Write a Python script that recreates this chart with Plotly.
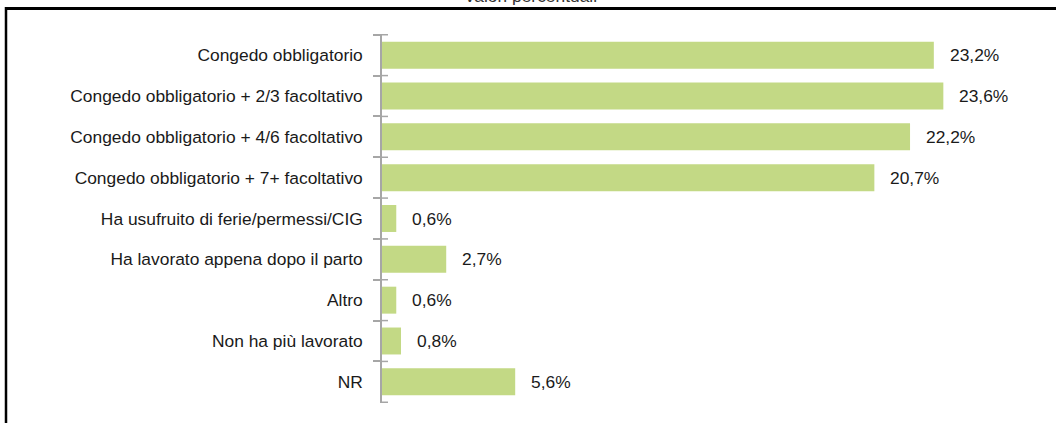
import plotly.graph_objects as go

# Survey answers and their shares (%)
categories = [
    "Congedo obbligatorio",
    "Congedo obbligatorio + 2/3 facoltativo",
    "Congedo obbligatorio + 4/6 facoltativo",
    "Congedo obbligatorio + 7+ facoltativo",
    "Ha usufruito di ferie/permessi/CIG",
    "Ha lavorato appena dopo il parto",
    "Altro",
    "Non ha più lavorato",
    "NR",
]
values = [23.2, 23.6, 22.2, 20.7, 0.6, 2.7, 0.6, 0.8, 5.6]
value_labels = [f"{v:.1f}%".replace(".", ",") for v in values]
subtitle = "Valori percentuali"

FONT = "Liberation Sans, Arial, sans-serif"
FS = 17.4
BAR_COLOR = "#c3d985"
AXIS_COLOR = "#a6a6a6"
TEXT_COLOR = "#1a1a1a"

W, H = 1056, 423
ML, MR, MT, MB = 382, 8, 34, 20
PW, PH = W - ML - MR, H - MT - MB


def px_x(px):
    return (px - ML) / PW


def px_y(py):
    return 1 - (py - MT) / PH


fig = go.Figure(
    go.Bar(
        x=values,
        y=categories,
        orientation="h",
        marker=dict(color=BAR_COLOR, line=dict(width=0)),
        hoverinfo="skip",
    )
)

# value labels to the right of each bar
for cat, v, lab in zip(categories, values, value_labels):
    fig.add_annotation(
        x=v, y=cat, text=lab, showarrow=False,
        xanchor="left", yanchor="middle", xshift=14,
        font=dict(family=FONT, size=FS, color=TEXT_COLOR),
    )

# inner half of the crossing tick marks at category boundaries
for i in range(len(categories) + 1):
    fig.add_shape(
        type="line", xref="x", yref="y",
        xsizemode="pixel", xanchor=0, x0=0, x1=6,
        y0=i - 0.5, y1=i - 0.5,
        line=dict(color=AXIS_COLOR, width=1.5),
    )

# frame edges
fig.add_shape(type="line", xref="paper", yref="paper",
              x0=px_x(5), x1=px_x(W + 2), y0=px_y(8.5), y1=px_y(8.5),
              line=dict(color="black", width=3))
fig.add_shape(type="line", xref="paper", yref="paper",
              x0=px_x(6), x1=px_x(6), y0=px_y(7), y1=px_y(H + 2),
              line=dict(color="black", width=2.5))

fig.add_annotation(
    x=px_x(530), y=px_y(8), xref="paper", yref="paper",
    text=subtitle, showarrow=False, xanchor="center", yanchor="bottom",
    font=dict(family=FONT, size=FS, color="#333333"),
)

fig.update_layout(
    width=W, height=H,
    margin=dict(l=ML, r=MR, t=MT, b=MB),
    paper_bgcolor="white", plot_bgcolor="white",
    bargap=0.34, showlegend=False,
    font=dict(family=FONT, size=FS, color=TEXT_COLOR),
    xaxis=dict(range=[0, 28], visible=False, fixedrange=True),
    yaxis=dict(
        categoryorder="array", categoryarray=categories,
        autorange="reversed",
        showline=True, linecolor=AXIS_COLOR, linewidth=1.5,
        ticks="outside", ticklen=7, tickwidth=1.5, tickcolor=AXIS_COLOR,
        tickson="boundaries", ticklabelstandoff=14,
        showgrid=False, zeroline=False,
        tickfont=dict(family=FONT, size=FS, color=TEXT_COLOR),
        fixedrange=True,
    ),
)

fig.write_html("out.html")
